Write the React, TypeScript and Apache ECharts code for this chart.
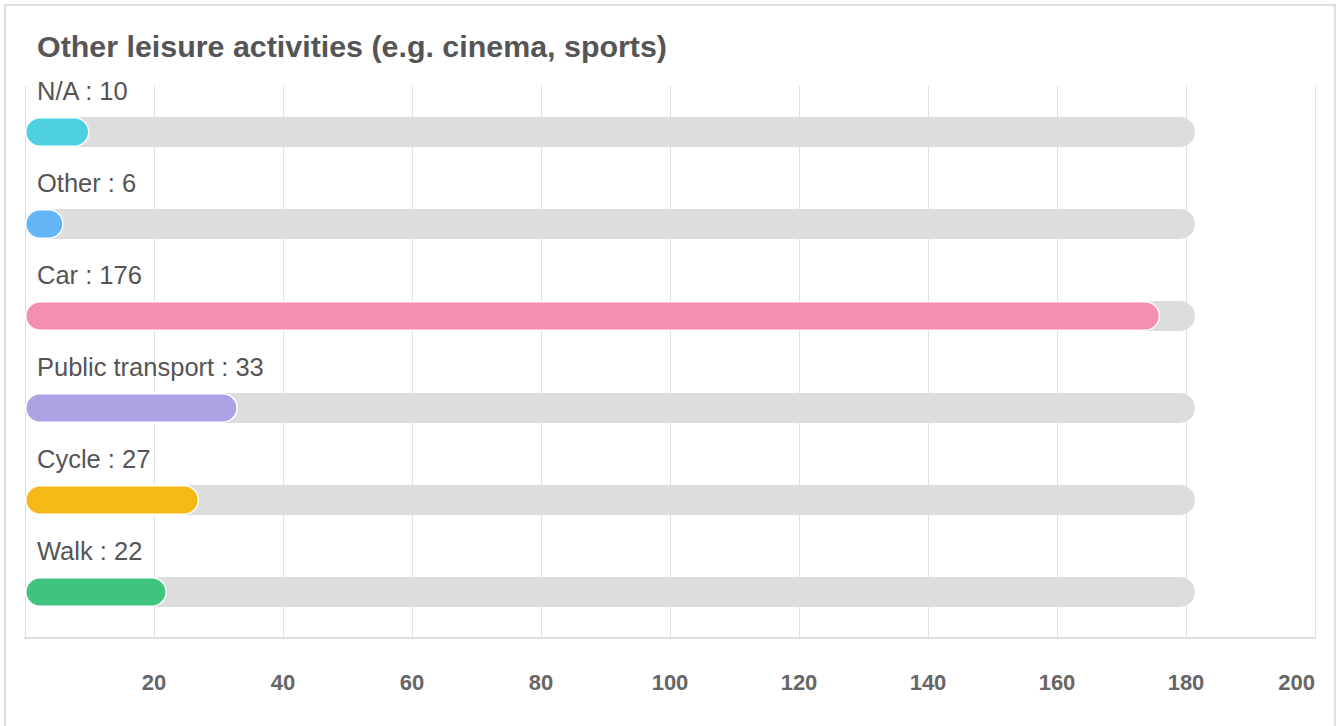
import React, { useEffect, useRef } from "react";
import * as echarts from "echarts";

const titleText = "Other leisure activities (e.g. cinema, sports)";
const categories = ["N/A", "Other", "Car", "Public transport", "Cycle", "Walk"];
const values = [10, 6, 176, 33, 27, 22];
const barColors = ["#4dd0e1", "#64b5f6", "#f48fb1", "#aca2e4", "#f4b914", "#3ec47f"];
const trackValue = 181.4;
const axisMin = 0;
const axisMax = 200;
const axisInterval = 20;

export default function App() {
  const ref = useRef<HTMLDivElement>(null);
  useEffect(() => {
    if (!ref.current) return;
    const chart = echarts.init(ref.current, null, { renderer: "svg" });
    chart.setOption({
      animation: false,
      backgroundColor: "#ffffff",
      title: {
        text: titleText,
        left: 37,
        top: 31,
        padding: 0,
        textStyle: {
          fontFamily: "Liberation Sans, Arial, sans-serif",
          fontSize: 30.4,
          fontWeight: "bold",
          color: "#555555",
        },
      },
      grid: { left: 25, right: 23, top: 86, bottom: 88, containLabel: false },
      xAxis: {
        type: "value",
        min: axisMin,
        max: axisMax,
        interval: axisInterval,
        axisLine: { show: true, lineStyle: { color: "#dddddd", width: 2 } },
        axisTick: { show: false },
        splitLine: { show: true, lineStyle: { color: "#e0e0e0", width: 1 } },
        axisLabel: {
          showMinLabel: false,
          alignMaxLabel: "right",
          margin: 33,
          fontFamily: "Liberation Sans, Arial, sans-serif",
          fontSize: 22,
          fontWeight: "bold",
          color: "#666666",
        },
      },
      yAxis: {
        type: "category",
        data: categories,
        inverse: true,
        axisLine: { show: false },
        axisTick: { show: false },
        axisLabel: { show: false },
        splitLine: { show: false },
      },
      series: [
        {
          type: "bar",
          silent: true,
          barWidth: 30,
          data: categories.map(() => trackValue),
          itemStyle: { color: "#dddddd", borderRadius: 15 },
          z: 1,
        },
        {
          type: "bar",
          barWidth: 30,
          barGap: "-100%",
          data: values.map((v, i) => ({
            value: v,
            itemStyle: { color: barColors[i] },
          })),
          itemStyle: { borderRadius: 15, borderColor: "#ffffff", borderWidth: 1.5 },
          label: {
            show: true,
            position: [12, -26],
            align: "left",
            verticalAlign: "middle",
            formatter: "{b} : {c}",
            fontFamily: "Liberation Sans, Arial, sans-serif",
            fontSize: 25.5,
            color: "#555555",
          },
          z: 2,
        },
      ],
    });
    return () => chart.dispose();
  }, []);

  return (
    <div style={{ position: "fixed", left: 0, top: 0, width: 1338, height: 726, background: "#fff" }}>
      <div ref={ref} style={{ position: "absolute", left: 0, top: 0, width: 1338, height: 726 }} />
      <div
        style={{
          position: "absolute",
          left: 4,
          top: 4,
          width: 1328,
          height: 740,
          borderLeft: "2px solid #e0e0e0",
          borderTop: "2px solid #e0e0e0",
          borderRight: "2px solid #e0e0e0",
          pointerEvents: "none",
        }}
      />
    </div>
  );
}
